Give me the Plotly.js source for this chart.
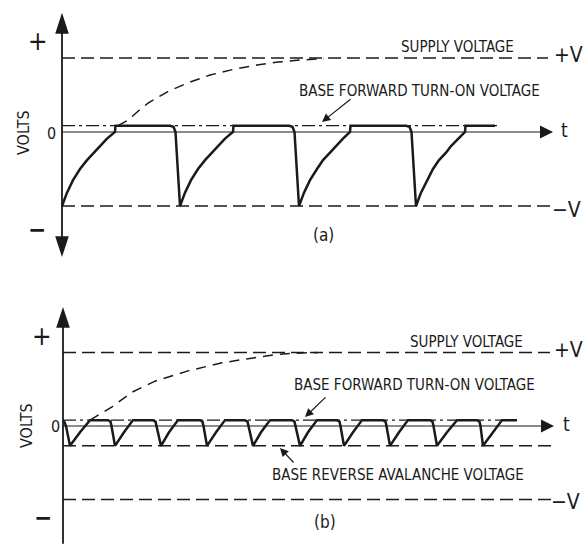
<!DOCTYPE html>
<html><head><meta charset="utf-8">
<script src="https://cdn.plot.ly/plotly-3.0.1.min.js"></script>
<style>html,body{margin:0;padding:0;background:#fff;}#chart{width:588px;height:544px;}</style>
</head><body><div id="chart"></div>
<script>
// ---------- Panel (a) data ----------
const aWaveT = [0,5,11,18,25,32,38,45,53,53.5,108,111.5,113.5,
                118,123,129,136,143,150,156,163,171,171.5,227,230.5,232.5,
                237,242,248,255,261,268,274,281,288,288.5,344,347.5,349.5,
                354,359,365,371,377,384,389,396,403,403.5,433];
const aWaveV = [-1,-0.82,-0.65,-0.5,-0.38,-0.28,-0.19,-0.09,0,0.085,0.085,0.07,0,
                -1,-0.82,-0.65,-0.5,-0.38,-0.28,-0.19,-0.09,0,0.085,0.085,0.07,0,
                -1,-0.82,-0.65,-0.5,-0.38,-0.28,-0.19,-0.09,0,0.085,0.085,0.07,0,
                -1,-0.82,-0.65,-0.5,-0.38,-0.28,-0.19,-0.09,0,0.085,0.085];
const aChargeT = [56,66,76,86,105,125,148,171,195,216,240,262];
const aChargeV = [0.085,0.16,0.28,0.39,0.54,0.66,0.77,0.845,0.905,0.945,0.975,0.99];
const aLevelNames = ['supply','forward','minusV','zero'];
const aLevelV   = [1, 0.085, -1, 0];
const aLevelEnd = [486, 435, 490, 484];

// ---------- Panel (b) data ----------
const bWaveT = [1,3,7,17,27,45,47.5,48.5,
                52,61,70,90,92.5,93.5,
                98,106,115,137,139.5,140.5,
                144,153,162,182,184.5,185.5,
                190,198,207,229,231.5,232.5,
                237,245,254,274,276.5,277.5,
                281,290,299,320,322.5,323.5,
                327,336,345,367,369.5,370.5,
                374,384,394,414,416.5,417.5,
                420,430,439,454];
const bWaveV = [0.07,0,-0.27,-0.085,0.08,0.08,0.06,0,
                -0.27,-0.085,0.08,0.08,0.06,0,
                -0.27,-0.085,0.08,0.08,0.06,0,
                -0.27,-0.085,0.08,0.08,0.06,0,
                -0.27,-0.085,0.08,0.08,0.06,0,
                -0.27,-0.085,0.08,0.08,0.06,0,
                -0.27,-0.085,0.08,0.08,0.06,0,
                -0.27,-0.085,0.08,0.08,0.06,0,
                -0.27,-0.085,0.08,0.08,0.06,0,
                -0.27,-0.085,0.08,0.08];
const bChargeT = [27,38,49,69,92,125,159,192,212,232,255];
const bChargeV = [0.08,0.17,0.26,0.46,0.61,0.75,0.86,0.93,0.97,0.99,1.0];
const bLevelNames = ['supply','forward','avalanche','minusV','zero'];
const bLevelV   = [1, 0.08, -0.27, -1, 0];
const bLevelEnd = [487, 454, 489, 490, 484];

// ---------- styling ----------
const INK = '#1a1a1a';
const FONT = '"Liberation Sans Narrow", "Arial Narrow", "DejaVu Sans Condensed", sans-serif';
const levelDash = {supply:'13px,6px', forward:'13px,4px,3px,4px', minusV:'13px,6px', avalanche:'13px,6px', zero:'solid'};
const levelWidth = {supply:1.5, forward:1.3, minusV:1.5, avalanche:1.5, zero:1.2};

const traces = [];
function line(x, y, xa, ya, w, dash) {
  traces.push({type:'scatter', mode:'lines', x:x, y:y, xaxis:xa, yaxis:ya,
    line:{color:INK, width:w, dash:dash||'solid'}, hoverinfo:'skip'});
}
function marker(x, y, xa, ya, sym, size, angle) {
  traces.push({type:'scatter', mode:'markers', x:[x], y:[y], xaxis:xa, yaxis:ya, cliponaxis:false,
    marker:{symbol:sym, size:size, angle:angle||0, color:INK, line:{width:0}}, hoverinfo:'skip'});
}

// panel (a)
aLevelNames.forEach((n,i)=> line([0, aLevelEnd[i]], [aLevelV[i], aLevelV[i]], 'x','y', levelWidth[n], levelDash[n]));
line(aChargeT, aChargeV, 'x','y', 1.5, '10px,7px');
line(aWaveT, aWaveV, 'x','y', 2.5);
line([0,0], [-1.62, 1.55], 'x','y', 1.8);
marker(0, 1.61, 'x','y', 'arrow', 22, 0);
marker(0, -1.69, 'x','y', 'arrow', 22, 180);
marker(491, 0, 'x','y', 'arrow-right', 13, 0);

// panel (b)
bLevelNames.forEach((n,i)=> line([0, bLevelEnd[i]], [bLevelV[i], bLevelV[i]], 'x2','y2', levelWidth[n], levelDash[n]));
line(bChargeT, bChargeV, 'x2','y2', 1.5, '10px,7px');
line(bWaveT, bWaveV, 'x2','y2', 2.5);
line([0,0], [-1.6, 1.56], 'x2','y2', 1.8);
marker(0, 1.62, 'x2','y2', 'arrow', 22, 0);
marker(0, -1.62, 'x2','y2', 'arrow', 22, 180);
marker(491, 0, 'x2','y2', 'arrow-right', 13, 0);

// ---------- annotations (pixel positions -> paper) ----------
const W = 588, H = 544;
const ann = [];
function label(text, px, py, size, opts) {
  ann.push(Object.assign({xref:'paper', yref:'paper', x:px/W, y:1-py/H, text:text, showarrow:false,
    xanchor:'center', yanchor:'middle', font:{family:FONT, size:size, color:INK}}, opts||{}));
}
function pointer(tipx, tipy, tailx, taily) {
  ann.push({xref:'paper', yref:'paper', x:tipx/W, y:1-tipy/H, text:'', showarrow:true,
    ax:tailx-tipx, ay:taily-tipy, arrowhead:2, arrowsize:1.4, arrowwidth:1.2, arrowcolor:INK});
}
// (a)
label('SUPPLY VOLTAGE', 457, 47, 15);
label('BASE FORWARD TURN-ON VOLTAGE', 419, 91, 15);
label('+V', 568, 55, 21);
label('−V', 566, 210, 21);
label('t', 564, 130, 19);
label('(a)', 323, 235, 17);
label('0', 51, 133, 16);
label('+', 38, 41, 26);
label('−', 37, 230, 24, {font:{family:FONT, size:24, color:INK, weight:700}});
label('VOLTS', 23, 133, 16, {textangle:-90});
pointer(322, 122, 352, 98);
// (b)
label('SUPPLY VOLTAGE', 466, 342, 15);
label('BASE FORWARD TURN-ON VOLTAGE', 415, 385, 15);
label('BASE REVERSE AVALANCHE VOLTAGE', 398, 475, 15);
label('+V', 568, 350, 21);
label('−V', 565, 502, 21);
label('t', 566, 424, 19);
label('(b)', 325, 522, 17);
label('0', 55, 426, 16);
label('+', 42, 336, 26);
label('−', 43, 518, 24, {font:{family:FONT, size:24, color:INK, weight:700}});
label('VOLTS', 26, 426, 16, {textangle:-90});
pointer(305, 417, 327, 396);
pointer(280, 448, 295, 464);

const layout = {
  width:W, height:H, margin:{l:0,r:0,t:0,b:0}, autosize:false,
  paper_bgcolor:'#ffffff', plot_bgcolor:'#ffffff', showlegend:false,
  xaxis:{domain:[0,1], range:[-62,526], visible:false, fixedrange:true},
  yaxis:{domain:[0.5,1], range:[-1.892,1.784], visible:false, fixedrange:true},
  xaxis2:{domain:[0,1], range:[-63,525], anchor:'y2', visible:false, fixedrange:true},
  yaxis2:{domain:[0,0.5], range:[-1.605,2.095], anchor:'x2', visible:false, fixedrange:true},
  annotations: ann
};
Plotly.newPlot('chart', traces, layout, {staticPlot:true, displayModeBar:false});
</script></body></html>
